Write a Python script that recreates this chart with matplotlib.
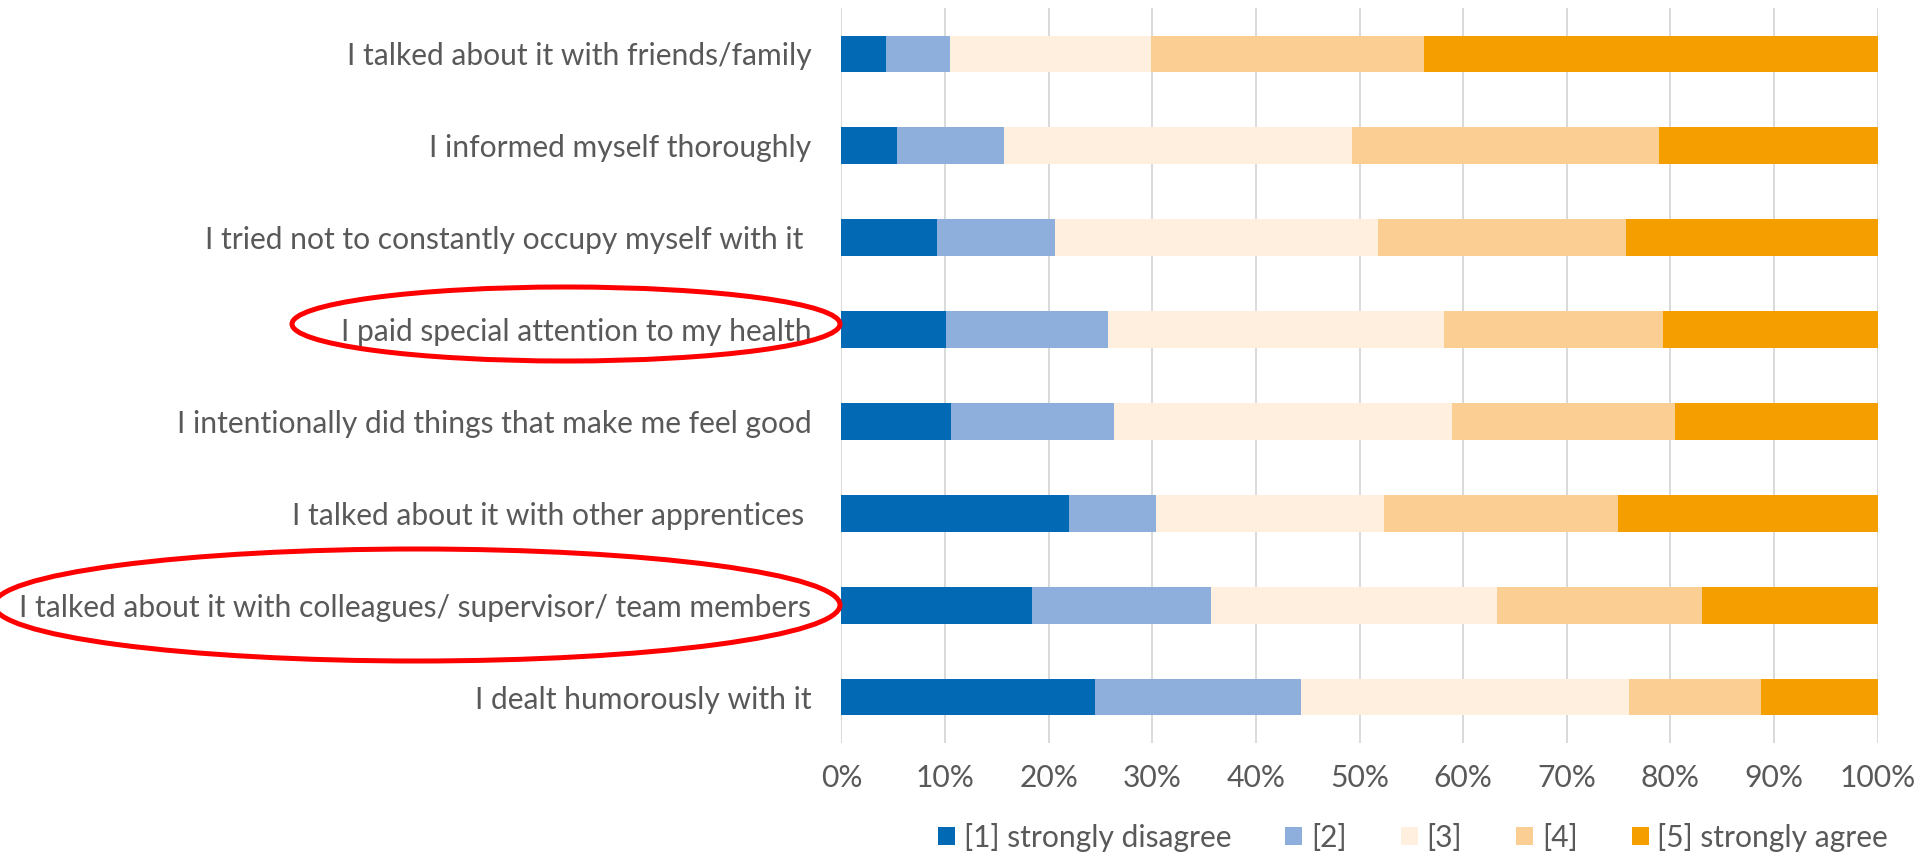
import matplotlib
matplotlib.use("Agg")
import matplotlib.pyplot as plt
from matplotlib.patches import Ellipse

plt.rcParams['font.family'] = ['Lato', 'DejaVu Sans']

# Survey statements, top to bottom as in the chart
statements = [
    "I talked about it with friends/family",
    "I informed myself thoroughly",
    "I tried not to constantly occupy myself with it ",
    "I paid special attention to my health",
    "I intentionally did things that make me feel good",
    "I talked about it with other apprentices ",
    "I talked about it with colleagues/ supervisor/ team members",
    "I dealt humorously with it",
]

# Share of answers (%) per statement, one list per answer level
strongly_disagree = [4.3, 5.4, 9.2, 10.1, 10.6, 22.0, 18.4, 24.5]
level_2 = [6.2, 10.3, 11.4, 15.6, 15.7, 8.4, 17.3, 19.9]
level_3 = [19.4, 33.6, 31.2, 32.5, 32.6, 22.0, 27.6, 31.6]
level_4 = [26.3, 29.6, 23.9, 21.1, 21.5, 22.5, 19.8, 12.7]
strongly_agree = [43.8, 21.1, 24.3, 20.7, 19.6, 25.1, 16.9, 11.3]

series_labels = ["[1] strongly disagree", "[2]", "[3]", "[4]", "[5] strongly agree"]
series_colours = ["#026AB4", "#8EAEDB", "#FEEFDE", "#FBCF94", "#F49E00"]
x_tick_labels = ["0%", "10%", "20%", "30%", "40%", "50%", "60%", "70%", "80%", "90%", "100%"]

text_grey = "#595959"
font_px = 30
font_pt = font_px * 72 / 100

fig = plt.figure(figsize=(19.17, 8.55), dpi=100)
ax = fig.add_axes([841.4 / 1917, 1 - 743 / 855, (1877.6 - 841.4) / 1917, (743 - 8) / 855])

y_pos = list(range(len(statements)))
left = [0.0] * len(statements)
all_series = [strongly_disagree, level_2, level_3, level_4, strongly_agree]
for vals, lab, col in zip(all_series, series_labels, series_colours):
    ax.barh(y_pos, vals, left=left, height=0.4, color=col, label=lab, zorder=3, linewidth=0)
    left = [a + b for a, b in zip(left, vals)]

ax.set_xlim(0, 100)
ax.set_ylim(len(statements) - 0.5, -0.5)
ax.set_yticks(y_pos)
ax.set_yticklabels(statements, fontsize=font_pt, color=text_grey)
ax.set_xticks(range(0, 101, 10))
ax.set_xticklabels(x_tick_labels, fontsize=font_pt, color=text_grey)
ax.tick_params(axis='y', length=0, pad=21.6)
ax.tick_params(axis='x', length=0, pad=15)

ax.grid(axis='x', color="#D9D9D9", linewidth=1.4, zorder=0)
for side in ['top', 'right', 'bottom', 'left']:
    ax.spines[side].set_visible(False)

fig.legend(loc='center', bbox_to_anchor=(1413 / 1917, 1 - 837 / 855), ncol=5,
           frameon=False, fontsize=font_pt, handlelength=0.57, handleheight=0.57,
           handletextpad=0.29, columnspacing=1.8, labelcolor=text_grey)

# Red ellipses highlighting two statements, drawn in pixel space
overlay = fig.add_axes([0, 0, 1, 1], facecolor='none')
overlay.set_xlim(0, 1917)
overlay.set_ylim(855, 0)
overlay.axis('off')
overlay.add_patch(Ellipse((566, 324), 548, 74, fill=False, edgecolor="#FF0000", linewidth=3.6))
overlay.add_patch(Ellipse((417, 605), 846, 112, fill=False, edgecolor="#FF0000", linewidth=3.6))

fig.savefig("out.png", dpi=100)
